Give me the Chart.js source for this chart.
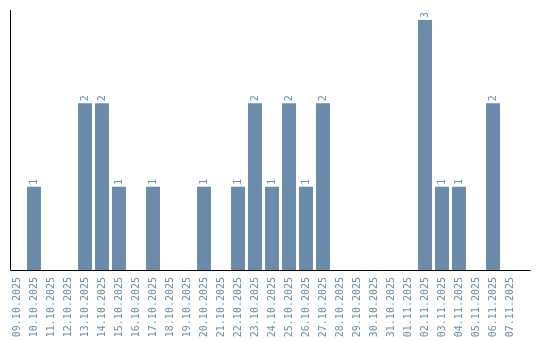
<!DOCTYPE html>
<html>
<head>
<meta charset="utf-8">
<script src="https://cdn.jsdelivr.net/npm/chart.js@4/dist/chart.umd.min.js"></script>
<style>
  html, body { margin: 0; padding: 0; background: #ffffff; }
  #wrap { width: 540px; height: 340px; position: relative; }
</style>
</head>
<body>
<div id="wrap"><canvas id="myChart"></canvas></div>
<script>
// categories (one per day)
var days = ['09.10.2025', '10.10.2025', '11.10.2025', '12.10.2025', '13.10.2025', '14.10.2025',
    '15.10.2025', '16.10.2025', '17.10.2025', '18.10.2025', '19.10.2025', '20.10.2025',
    '21.10.2025', '22.10.2025', '23.10.2025', '24.10.2025', '25.10.2025', '26.10.2025',
    '27.10.2025', '28.10.2025', '29.10.2025', '30.10.2025', '31.10.2025', '01.11.2025',
    '02.11.2025', '03.11.2025', '04.11.2025', '05.11.2025', '06.11.2025', '07.11.2025'];

// counts per day
var counts = [0, 1, 0, 0, 2, 2, 1, 0, 1, 0, 0, 1, 0, 1, 2, 1, 2, 1, 2, 0, 0, 0, 0, 0, 3, 1, 1, 0, 2, 0];

var barColor = 'rgb(106, 140, 170)';
var textColor = 'rgb(106, 140, 175)';
var monoFont = '"DejaVu Sans Mono", monospace';

// draws the two axis lines
var axisLines = {
    id: 'axisLines',
    afterDraw: function (chart) {
        var ctx = chart.ctx;
        var area = chart.chartArea;
        ctx.save();
        ctx.strokeStyle = '#000000';
        ctx.lineWidth = 1;
        ctx.beginPath();
        ctx.moveTo(area.left + 2, area.top);
        ctx.lineTo(area.left + 2, area.bottom + 0.5);
        ctx.lineTo(area.right + 12, area.bottom + 0.5);
        ctx.stroke();
        ctx.restore();
    }
};

// value labels above the bars, rotated
var valueLabels = {
    id: 'valueLabels',
    afterDatasetsDraw: function (chart) {
        var ctx = chart.ctx;
        var meta = chart.getDatasetMeta(0);
        ctx.save();
        ctx.fillStyle = textColor;
        ctx.font = '10px ' + monoFont;
        ctx.textAlign = 'left';
        ctx.textBaseline = 'middle';
        meta.data.forEach(function (bar, i) {
            var v = counts[i];
            if (!v) return;
            ctx.save();
            ctx.translate(bar.x, bar.y - 2);
            ctx.rotate(-Math.PI / 2);
            ctx.fillText(String(v), 0, 0);
            ctx.restore();
        });
        ctx.restore();
    }
};

var chartData = {
    labels: days,
    datasets: [{
        data: counts,
        backgroundColor: barColor,
        borderWidth: 0,
        barPercentage: 0.82,
        categoryPercentage: 1.0
    }]
};

var chartOptions = {
    responsive: false,
    animation: false,
    layout: {
        padding: { left: 8.5, right: 21.5, top: 10, bottom: 0 }
    },
    plugins: {
        legend: { display: false },
        tooltip: { enabled: false }
    },
    scales: {
        x: {
            grid: { display: false, drawTicks: false },
            border: { display: false },
            afterFit: function (scale) { scale.height = 70; },
            ticks: {
                color: textColor,
                font: { family: monoFont, size: 10 },
                minRotation: 90,
                maxRotation: 90,
                autoSkip: false,
                padding: 7
            }
        },
        y: {
            display: false,
            min: 0,
            max: 3.12
        }
    }
};

var canvas = document.getElementById('myChart');
canvas.width = 540;
canvas.height = 340;
var chart = new Chart(canvas.getContext('2d'), {
    type: 'bar',
    data: chartData,
    options: chartOptions,
    plugins: [axisLines, valueLabels]
});
</script>
</body>
</html>
